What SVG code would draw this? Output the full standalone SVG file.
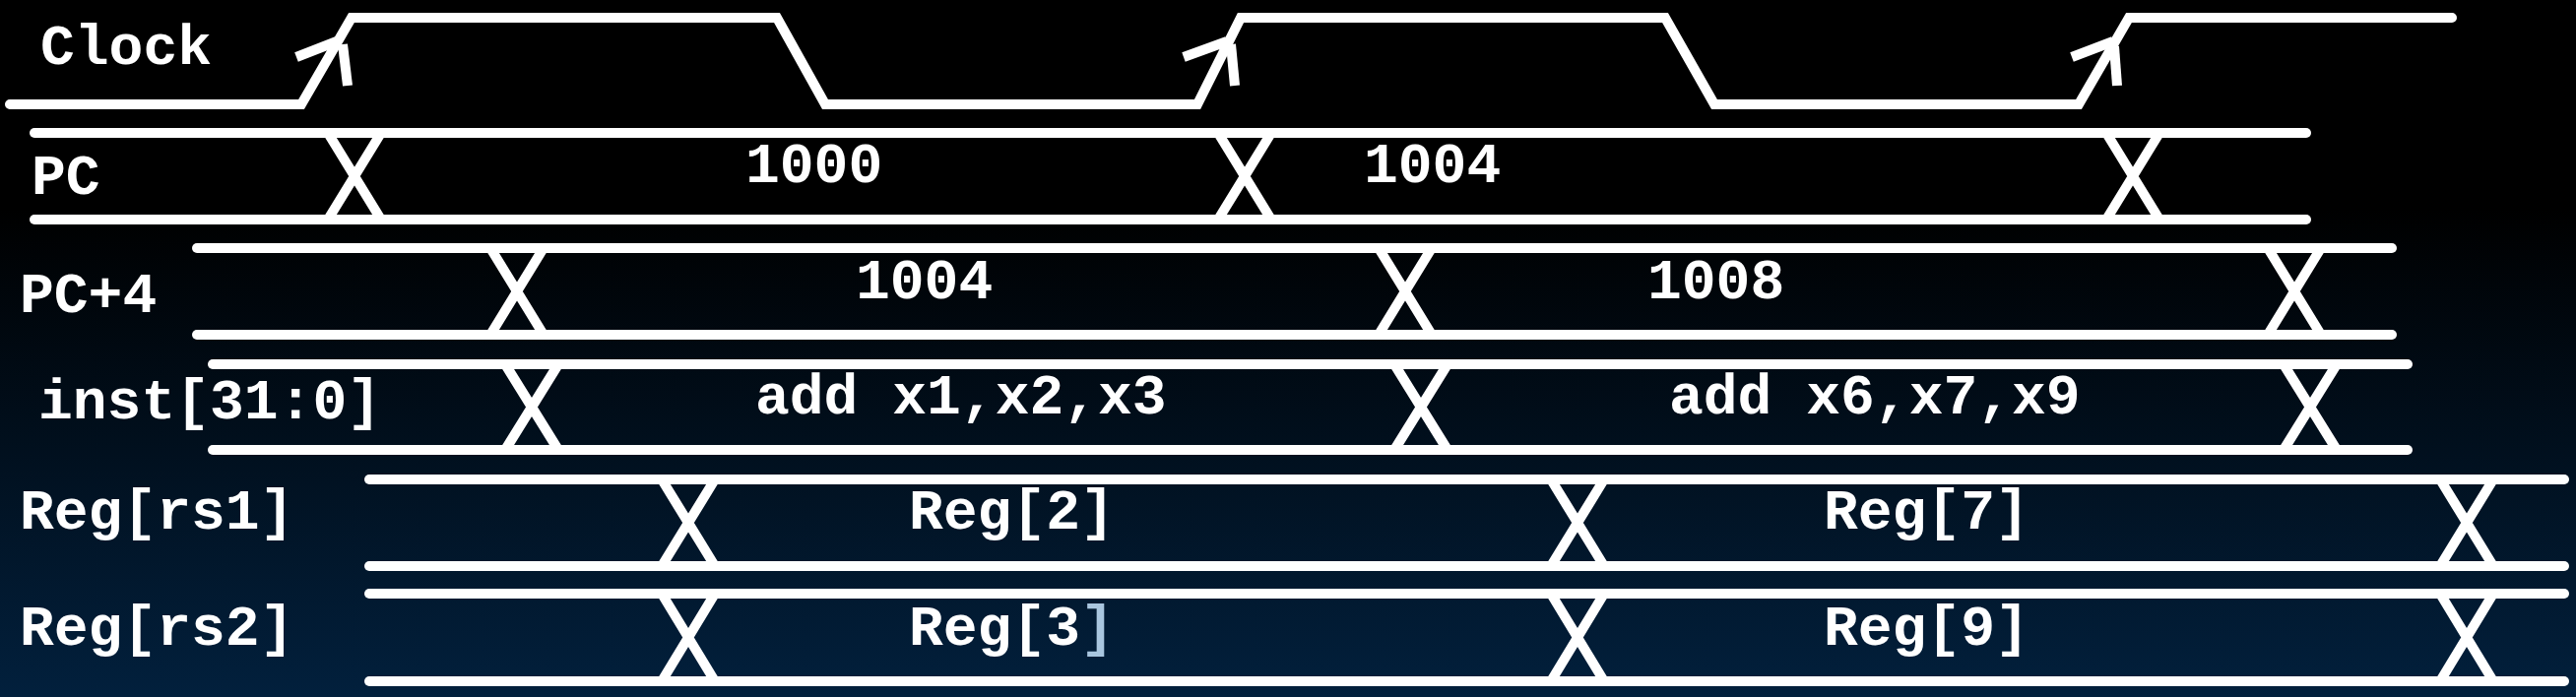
<svg xmlns="http://www.w3.org/2000/svg" width="2616" height="708" viewBox="0 0 2616 708">
  <defs>
    <linearGradient id="bg" x1="0" y1="0" x2="0" y2="1">
      <stop offset="0" stop-color="#000000"/>
      <stop offset="0.3" stop-color="#000000"/>
      <stop offset="1" stop-color="#02203d"/>
    </linearGradient>
  </defs>
  <style>
    .w { stroke: #ffffff; stroke-width: 10; fill: none; }
    .bus { stroke-linecap: round; }
    .x { stroke-linecap: butt; }
    .clk { stroke-linejoin: miter; stroke-linecap: round; }
    .arr { stroke-linecap: butt; }
    text { font-family: "Liberation Mono", "Courier New", monospace; font-weight: bold; font-size: 58px; fill: #ffffff; }
  </style>
  <rect x="0" y="0" width="2616" height="708" fill="url(#bg)"/>

  <g id="clock">
    <text x="41" y="65">Clock</text>
    <polyline class="w clk" points="10,106 306,106 357,18 789,18 838,106 1216,106 1260,18 1691,18 1741,106 2111,106 2162,18 2490,18"/>
    <line class="w arr" x1="301" y1="58" x2="342" y2="42"/>
    <line class="w arr" x1="353" y1="87" x2="348" y2="45"/>
    <line class="w arr" x1="1202" y1="58" x2="1246" y2="42"/>
    <line class="w arr" x1="1254" y1="87" x2="1250" y2="45"/>
    <line class="w arr" x1="2104" y1="58" x2="2146" y2="42"/>
    <line class="w arr" x1="2150" y1="87" x2="2147" y2="47"/>
  </g>

  <g id="pc">
    <text x="32" y="197">PC</text>
    <line class="w bus" x1="35" y1="135" x2="2342" y2="135"/>
    <line class="w bus" x1="35" y1="223" x2="2342" y2="223"/>
    <path class="w x" d="M333,135 L387,223 M387,135 L333,223 M1237,135 L1291,223 M1291,135 L1237,223 M2139,135 L2193,223 M2193,135 L2139,223"/>
    <text x="757" y="185">1000</text>
    <text x="1385" y="185">1004</text>
  </g>

  <g id="pc4">
    <text x="20" y="317">PC+4</text>
    <line class="w bus" x1="200" y1="252" x2="2429" y2="252"/>
    <line class="w bus" x1="200" y1="340" x2="2429" y2="340"/>
    <path class="w x" d="M498,252 L552,340 M552,252 L498,340 M1400,252 L1454,340 M1454,252 L1400,340 M2303,252 L2357,340 M2357,252 L2303,340"/>
    <text x="869" y="303">1004</text>
    <text x="1673" y="303">1008</text>
  </g>

  <g id="inst">
    <text x="39" y="425">inst[31:0]</text>
    <line class="w bus" x1="216" y1="370" x2="2445" y2="370"/>
    <line class="w bus" x1="216" y1="457" x2="2445" y2="457"/>
    <path class="w x" d="M513,370 L567,457 M567,370 L513,457 M1416,370 L1470,457 M1470,370 L1416,457 M2319,370 L2373,457 M2373,370 L2319,457"/>
    <text x="767" y="420">add x1,x2,x3</text>
    <text x="1695" y="420">add x6,x7,x9</text>
  </g>

  <g id="reg-rs1">
    <text x="20" y="537">Reg[rs1]</text>
    <line class="w bus" x1="375" y1="487" x2="2604" y2="487"/>
    <line class="w bus" x1="375" y1="575" x2="2604" y2="575"/>
    <path class="w x" d="M672,487 L726,575 M726,487 L672,575 M1575,487 L1629,575 M1629,487 L1575,575 M2478,487 L2532,575 M2532,487 L2478,575"/>
    <text x="923" y="537">Reg[2]</text>
    <text x="1852" y="537">Reg[7]</text>
  </g>

  <g id="reg-rs2">
    <text x="20" y="655">Reg[rs2]</text>
    <line class="w bus" x1="375" y1="603" x2="2604" y2="603"/>
    <line class="w bus" x1="375" y1="692" x2="2604" y2="692"/>
    <path class="w x" d="M672,603 L726,692 M726,603 L672,692 M1575,603 L1629,692 M1629,603 L1575,692 M2478,603 L2532,692 M2532,603 L2478,692"/>
    <text x="923" y="655">Reg[3<tspan fill="#a9c6df">]</tspan></text>
    <text x="1852" y="655">Reg[9]</text>
  </g>

  <g id="connectors"/>
</svg>
